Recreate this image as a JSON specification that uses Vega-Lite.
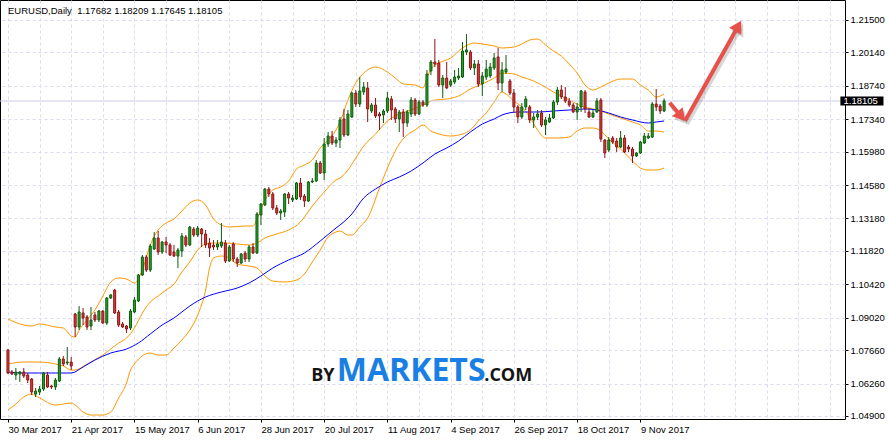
{
"$schema":"https://vega.github.io/schema/vega-lite/v6.json",
"width":845,"height":419,
"autosize":{"type":"none"},
"padding":{"left":0,"top":0,"right":43,"bottom":21},
"background":"#ffffff",
"title":{"text":"EURUSD,Daily\u00a0 1.17682 1.18209 1.17645 1.18105","anchor":"start","frame":"group","orient":"top","offset":-23,"dx":8,"baseline":"alphabetic","font":"Liberation Sans","fontSize":9.5,"fontWeight":"normal","color":"#000000"},
"config":{
"view":{"stroke":"#000000","strokeWidth":1},
"axis":{"labelFont":"Liberation Sans","labelFontSize":9.5,"labelColor":"#000000","tickColor":"#000000","domain":false,"gridColor":"#dadaf0","gridDash":[3,3],"gridWidth":1,"title":null}
},
"datasets":{
"candles":[
{"i":0,"o":1.07666,"h":1.07708,"l":1.06660,"c":1.06702},
{"i":1,"o":1.06744,"h":1.06828,"l":1.06618,"c":1.06660},
{"i":2,"o":1.06618,"h":1.06911,"l":1.06408,"c":1.06744},
{"i":3,"o":1.06660,"h":1.06786,"l":1.06325,"c":1.06744},
{"i":4,"o":1.06744,"h":1.06911,"l":1.06492,"c":1.06576},
{"i":5,"o":1.06618,"h":1.06702,"l":1.06283,"c":1.06408},
{"i":6,"o":1.06450,"h":1.06492,"l":1.05780,"c":1.05905},
{"i":7,"o":1.05822,"h":1.06073,"l":1.05696,"c":1.05947},
{"i":8,"o":1.05905,"h":1.06157,"l":1.05780,"c":1.06031},
{"i":9,"o":1.06031,"h":1.06744,"l":1.05947,"c":1.06702},
{"i":10,"o":1.06618,"h":1.06744,"l":1.06073,"c":1.06115},
{"i":11,"o":1.06157,"h":1.06199,"l":1.06031,"c":1.06115},
{"i":12,"o":1.06115,"h":1.06492,"l":1.05989,"c":1.06408},
{"i":13,"o":1.06366,"h":1.07373,"l":1.06325,"c":1.07289},
{"i":14,"o":1.07289,"h":1.07414,"l":1.06995,"c":1.07079},
{"i":15,"o":1.07121,"h":1.07792,"l":1.07037,"c":1.07163},
{"i":16,"o":1.07163,"h":1.07373,"l":1.06828,"c":1.06995},
{"i":17,"o":1.09175,"h":1.09217,"l":1.08211,"c":1.08630},
{"i":18,"o":1.08630,"h":1.09510,"l":1.08504,"c":1.09259},
{"i":19,"o":1.09217,"h":1.09427,"l":1.08714,"c":1.09007},
{"i":20,"o":1.09049,"h":1.09133,"l":1.08504,"c":1.08630},
{"i":21,"o":1.08672,"h":1.09469,"l":1.08504,"c":1.08924},
{"i":22,"o":1.09133,"h":1.09259,"l":1.08840,"c":1.08924},
{"i":23,"o":1.08924,"h":1.09343,"l":1.08840,"c":1.09301},
{"i":24,"o":1.09301,"h":1.09343,"l":1.08756,"c":1.08798},
{"i":25,"o":1.08798,"h":1.09888,"l":1.08714,"c":1.09846},
{"i":26,"o":1.09846,"h":1.10014,"l":1.09804,"c":1.09972},
{"i":27,"o":1.10181,"h":1.10223,"l":1.09175,"c":1.09217},
{"i":28,"o":1.09259,"h":1.09343,"l":1.08630,"c":1.08714},
{"i":29,"o":1.08756,"h":1.08840,"l":1.08588,"c":1.08630},
{"i":30,"o":1.08672,"h":1.08714,"l":1.08379,"c":1.08546},
{"i":31,"o":1.08588,"h":1.09385,"l":1.08504,"c":1.09301},
{"i":32,"o":1.09259,"h":1.09888,"l":1.09217,"c":1.09762},
{"i":33,"o":1.09720,"h":1.10852,"l":1.09678,"c":1.10810},
{"i":34,"o":1.10810,"h":1.11648,"l":1.10768,"c":1.11565},
{"i":35,"o":1.11565,"h":1.11648,"l":1.10936,"c":1.11020},
{"i":36,"o":1.11020,"h":1.12110,"l":1.10936,"c":1.12026},
{"i":37,"o":1.11900,"h":1.12613,"l":1.11858,"c":1.12361},
{"i":38,"o":1.12361,"h":1.12655,"l":1.11648,"c":1.11774},
{"i":39,"o":1.11774,"h":1.12235,"l":1.11690,"c":1.12193},
{"i":40,"o":1.12193,"h":1.12403,"l":1.11732,"c":1.12068},
{"i":41,"o":1.12068,"h":1.12151,"l":1.11606,"c":1.11648},
{"i":42,"o":1.11774,"h":1.12068,"l":1.11565,"c":1.11606},
{"i":43,"o":1.11606,"h":1.11942,"l":1.11103,"c":1.11858},
{"i":44,"o":1.11816,"h":1.12571,"l":1.11565,"c":1.12445},
{"i":45,"o":1.12403,"h":1.12487,"l":1.11984,"c":1.12068},
{"i":46,"o":1.12068,"h":1.12864,"l":1.12026,"c":1.12822},
{"i":47,"o":1.12738,"h":1.12822,"l":1.12403,"c":1.12487},
{"i":48,"o":1.12487,"h":1.12864,"l":1.12403,"c":1.12780},
{"i":49,"o":1.12738,"h":1.12780,"l":1.11984,"c":1.12529},
{"i":50,"o":1.12529,"h":1.12696,"l":1.11942,"c":1.12068},
{"i":51,"o":1.12151,"h":1.12361,"l":1.11565,"c":1.11942},
{"i":52,"o":1.12068,"h":1.12277,"l":1.11858,"c":1.11984},
{"i":53,"o":1.11984,"h":1.12277,"l":1.11858,"c":1.12110},
{"i":54,"o":1.12026,"h":1.12990,"l":1.11942,"c":1.12193},
{"i":55,"o":1.12151,"h":1.12277,"l":1.11313,"c":1.11397},
{"i":56,"o":1.11397,"h":1.12068,"l":1.11355,"c":1.11984},
{"i":57,"o":1.12110,"h":1.12193,"l":1.11355,"c":1.11481},
{"i":58,"o":1.11481,"h":1.11565,"l":1.11145,"c":1.11313},
{"i":59,"o":1.11313,"h":1.11732,"l":1.11271,"c":1.11690},
{"i":60,"o":1.11732,"h":1.11816,"l":1.11355,"c":1.11481},
{"i":61,"o":1.11481,"h":1.12068,"l":1.11355,"c":1.11984},
{"i":62,"o":1.11984,"h":1.12151,"l":1.11690,"c":1.11732},
{"i":63,"o":1.11732,"h":1.13451,"l":1.11690,"c":1.13367},
{"i":64,"o":1.13325,"h":1.13828,"l":1.12906,"c":1.13786},
{"i":65,"o":1.13744,"h":1.14457,"l":1.13702,"c":1.14415},
{"i":66,"o":1.14415,"h":1.14499,"l":1.14080,"c":1.14206},
{"i":67,"o":1.14206,"h":1.14289,"l":1.13535,"c":1.13619},
{"i":68,"o":1.13619,"h":1.13744,"l":1.13325,"c":1.13409},
{"i":69,"o":1.13409,"h":1.13577,"l":1.13116,"c":1.13493},
{"i":70,"o":1.13451,"h":1.14247,"l":1.13241,"c":1.14206},
{"i":71,"o":1.14206,"h":1.14289,"l":1.13786,"c":1.14038},
{"i":72,"o":1.13954,"h":1.14164,"l":1.13870,"c":1.14038},
{"i":73,"o":1.13996,"h":1.14709,"l":1.13954,"c":1.14667},
{"i":74,"o":1.14667,"h":1.14876,"l":1.13954,"c":1.14080},
{"i":75,"o":1.14122,"h":1.14206,"l":1.13661,"c":1.13912},
{"i":76,"o":1.13912,"h":1.14750,"l":1.13870,"c":1.14709},
{"i":77,"o":1.14709,"h":1.14876,"l":1.14667,"c":1.14750},
{"i":78,"o":1.14750,"h":1.15631,"l":1.14709,"c":1.15505},
{"i":79,"o":1.15505,"h":1.15589,"l":1.15044,"c":1.15086},
{"i":80,"o":1.15086,"h":1.16553,"l":1.14792,"c":1.16302},
{"i":81,"o":1.16302,"h":1.16805,"l":1.16176,"c":1.16637},
{"i":82,"o":1.16637,"h":1.16846,"l":1.16260,"c":1.16343},
{"i":83,"o":1.16343,"h":1.16595,"l":1.16176,"c":1.16469},
{"i":84,"o":1.16469,"h":1.17433,"l":1.16134,"c":1.17308},
{"i":85,"o":1.17350,"h":1.17769,"l":1.16595,"c":1.16679},
{"i":86,"o":1.16679,"h":1.17727,"l":1.16637,"c":1.17559},
{"i":87,"o":1.17433,"h":1.18481,"l":1.17391,"c":1.18439},
{"i":88,"o":1.18439,"h":1.18565,"l":1.17853,"c":1.17978},
{"i":89,"o":1.17978,"h":1.19110,"l":1.17853,"c":1.18523},
{"i":90,"o":1.18481,"h":1.18901,"l":1.18356,"c":1.18691},
{"i":91,"o":1.18649,"h":1.18901,"l":1.17224,"c":1.17769},
{"i":92,"o":1.17685,"h":1.18020,"l":1.17601,"c":1.17936},
{"i":93,"o":1.17936,"h":1.18230,"l":1.17391,"c":1.17475},
{"i":94,"o":1.17559,"h":1.17643,"l":1.16888,"c":1.17475},
{"i":95,"o":1.17517,"h":1.17769,"l":1.17182,"c":1.17685},
{"i":96,"o":1.17685,"h":1.18481,"l":1.17601,"c":1.18230},
{"i":97,"o":1.18188,"h":1.18314,"l":1.17308,"c":1.17727},
{"i":98,"o":1.17769,"h":1.17853,"l":1.17182,"c":1.17350},
{"i":99,"o":1.17350,"h":1.17727,"l":1.16805,"c":1.17643},
{"i":100,"o":1.17643,"h":1.17769,"l":1.16595,"c":1.17182},
{"i":101,"o":1.17182,"h":1.17727,"l":1.17014,"c":1.17643},
{"i":102,"o":1.17559,"h":1.18272,"l":1.17433,"c":1.18146},
{"i":103,"o":1.18146,"h":1.18230,"l":1.17475,"c":1.17559},
{"i":104,"o":1.17559,"h":1.18146,"l":1.17517,"c":1.18062},
{"i":105,"o":1.18062,"h":1.18146,"l":1.17853,"c":1.17936},
{"i":106,"o":1.17936,"h":1.19404,"l":1.17853,"c":1.19236},
{"i":107,"o":1.19362,"h":1.19823,"l":1.19194,"c":1.19739},
{"i":108,"o":1.19739,"h":1.20703,"l":1.19529,"c":1.19655},
{"i":109,"o":1.19697,"h":1.19823,"l":1.18691,"c":1.18775},
{"i":110,"o":1.18775,"h":1.19194,"l":1.18230,"c":1.19068},
{"i":111,"o":1.19068,"h":1.19739,"l":1.18607,"c":1.18649},
{"i":112,"o":1.18775,"h":1.19026,"l":1.18691,"c":1.18942},
{"i":113,"o":1.18901,"h":1.19404,"l":1.18817,"c":1.19110},
{"i":114,"o":1.19068,"h":1.19487,"l":1.18984,"c":1.19152},
{"i":115,"o":1.19110,"h":1.20577,"l":1.19068,"c":1.20200},
{"i":116,"o":1.20158,"h":1.20913,"l":1.20032,"c":1.20242},
{"i":117,"o":1.20158,"h":1.20242,"l":1.19404,"c":1.19487},
{"i":118,"o":1.19487,"h":1.19823,"l":1.19194,"c":1.19655},
{"i":119,"o":1.19655,"h":1.19823,"l":1.18691,"c":1.18817},
{"i":120,"o":1.18817,"h":1.19320,"l":1.18314,"c":1.19152},
{"i":121,"o":1.19110,"h":1.19823,"l":1.18984,"c":1.19446},
{"i":122,"o":1.19152,"h":1.19697,"l":1.19068,"c":1.19529},
{"i":123,"o":1.19487,"h":1.20116,"l":1.19404,"c":1.19907},
{"i":124,"o":1.19949,"h":1.20326,"l":1.18565,"c":1.18859},
{"i":125,"o":1.18859,"h":1.19739,"l":1.18481,"c":1.19404},
{"i":126,"o":1.19320,"h":1.20032,"l":1.19236,"c":1.19446},
{"i":127,"o":1.18942,"h":1.19026,"l":1.18356,"c":1.18439},
{"i":128,"o":1.18439,"h":1.18607,"l":1.17601,"c":1.17853},
{"i":129,"o":1.17853,"h":1.17936,"l":1.17182,"c":1.17433},
{"i":130,"o":1.17433,"h":1.18020,"l":1.17350,"c":1.17853},
{"i":131,"o":1.17853,"h":1.18314,"l":1.17727,"c":1.18188},
{"i":132,"o":1.17853,"h":1.17936,"l":1.17182,"c":1.17308},
{"i":133,"o":1.17308,"h":1.17601,"l":1.16972,"c":1.17433},
{"i":134,"o":1.17433,"h":1.17727,"l":1.17308,"c":1.17559},
{"i":135,"o":1.17601,"h":1.17727,"l":1.17014,"c":1.17098},
{"i":136,"o":1.17098,"h":1.17433,"l":1.16679,"c":1.17308},
{"i":137,"o":1.17224,"h":1.17559,"l":1.17182,"c":1.17391},
{"i":138,"o":1.17391,"h":1.18146,"l":1.17350,"c":1.18062},
{"i":139,"o":1.18062,"h":1.18691,"l":1.17936,"c":1.18565},
{"i":140,"o":1.18565,"h":1.18775,"l":1.18188,"c":1.18272},
{"i":141,"o":1.18272,"h":1.18691,"l":1.18020,"c":1.18104},
{"i":142,"o":1.18104,"h":1.18230,"l":1.17853,"c":1.17936},
{"i":143,"o":1.17936,"h":1.18020,"l":1.17601,"c":1.17643},
{"i":144,"o":1.17643,"h":1.18020,"l":1.17308,"c":1.17853},
{"i":145,"o":1.17853,"h":1.18565,"l":1.17643,"c":1.18523},
{"i":146,"o":1.18481,"h":1.18565,"l":1.17601,"c":1.17769},
{"i":147,"o":1.17643,"h":1.17811,"l":1.17391,"c":1.17433},
{"i":148,"o":1.17433,"h":1.17727,"l":1.17391,"c":1.17601},
{"i":149,"o":1.17643,"h":1.18230,"l":1.17601,"c":1.18104},
{"i":150,"o":1.18146,"h":1.18230,"l":1.16385,"c":1.16511},
{"i":151,"o":1.16469,"h":1.16511,"l":1.15715,"c":1.15924},
{"i":152,"o":1.16050,"h":1.16595,"l":1.15966,"c":1.16469},
{"i":153,"o":1.16553,"h":1.16637,"l":1.16302,"c":1.16385},
{"i":154,"o":1.16427,"h":1.16553,"l":1.15966,"c":1.16176},
{"i":155,"o":1.16176,"h":1.16846,"l":1.16134,"c":1.16553},
{"i":156,"o":1.16553,"h":1.16679,"l":1.15924,"c":1.15966},
{"i":157,"o":1.16176,"h":1.16260,"l":1.15966,"c":1.16092},
{"i":158,"o":1.16092,"h":1.16176,"l":1.15505,"c":1.15798},
{"i":159,"o":1.15798,"h":1.15966,"l":1.15757,"c":1.15924},
{"i":160,"o":1.15924,"h":1.16427,"l":1.15882,"c":1.16385},
{"i":161,"o":1.16343,"h":1.16763,"l":1.16302,"c":1.16637},
{"i":162,"o":1.16553,"h":1.16763,"l":1.16511,"c":1.16637},
{"i":163,"o":1.16595,"h":1.18062,"l":1.16553,"c":1.17978},
{"i":164,"o":1.17978,"h":1.18607,"l":1.17685,"c":1.17853},
{"i":165,"o":1.17894,"h":1.17978,"l":1.17559,"c":1.17685},
{"i":166,"o":1.17682,"h":1.18209,"l":1.17645,"c":1.18105}
],
"lines":[
{"i":0,"s":"up","v":1.08966},{"i":4,"s":"up","v":1.08714},{"i":6,"s":"up","v":1.08672},{"i":8,"s":"up","v":1.08756},{"i":12,"s":"up","v":1.08630},{"i":14,"s":"up","v":1.08588},{"i":16,"s":"up","v":1.08253},{"i":17,"s":"up","v":1.08211},{"i":18,"s":"up","v":1.08504},{"i":20,"s":"up","v":1.08924},{"i":22,"s":"up","v":1.09343},{"i":24,"s":"up","v":1.09930},{"i":26,"s":"up","v":1.10517},{"i":28,"s":"up","v":1.10684},{"i":30,"s":"up","v":1.10642},{"i":32,"s":"up","v":1.10475},{"i":34,"s":"up","v":1.11020},{"i":36,"s":"up","v":1.12068},{"i":38,"s":"up","v":1.12696},{"i":40,"s":"up","v":1.12990},{"i":42,"s":"up","v":1.13158},{"i":44,"s":"up","v":1.13493},{"i":46,"s":"up","v":1.13828},{"i":48,"s":"up","v":1.13954},{"i":50,"s":"up","v":1.13744},{"i":52,"s":"up","v":1.13158},{"i":54,"s":"up","v":1.12906},{"i":56,"s":"up","v":1.12822},{"i":60,"s":"up","v":1.12864},{"i":62,"s":"up","v":1.12864},{"i":63,"s":"up","v":1.13158},{"i":65,"s":"up","v":1.13954},{"i":67,"s":"up","v":1.14373},{"i":69,"s":"up","v":1.14499},{"i":71,"s":"up","v":1.14750},{"i":73,"s":"up","v":1.15254},{"i":75,"s":"up","v":1.15421},{"i":77,"s":"up","v":1.15631},{"i":79,"s":"up","v":1.16134},{"i":81,"s":"up","v":1.16469},{"i":83,"s":"up","v":1.16888},{"i":84,"s":"up","v":1.17224},{"i":86,"s":"up","v":1.18146},{"i":88,"s":"up","v":1.18859},{"i":90,"s":"up","v":1.19278},{"i":93,"s":"up","v":1.19529},{"i":96,"s":"up","v":1.19320},{"i":98,"s":"up","v":1.19068},{"i":100,"s":"up","v":1.18817},{"i":103,"s":"up","v":1.18775},{"i":105,"s":"up","v":1.18649},{"i":106,"s":"up","v":1.19068},{"i":107,"s":"up","v":1.19446},{"i":109,"s":"up","v":1.19697},{"i":112,"s":"up","v":1.19907},{"i":115,"s":"up","v":1.20326},{"i":118,"s":"up","v":1.20535},{"i":120,"s":"up","v":1.20493},{"i":123,"s":"up","v":1.20410},{"i":125,"s":"up","v":1.20326},{"i":128,"s":"up","v":1.20368},{"i":130,"s":"up","v":1.20493},{"i":132,"s":"up","v":1.20661},{"i":134,"s":"up","v":1.20703},{"i":136,"s":"up","v":1.20452},{"i":138,"s":"up","v":1.20200},{"i":140,"s":"up","v":1.19990},{"i":142,"s":"up","v":1.19655},{"i":144,"s":"up","v":1.19278},{"i":146,"s":"up","v":1.18775},{"i":148,"s":"up","v":1.18565},{"i":150,"s":"up","v":1.18691},{"i":152,"s":"up","v":1.18859},{"i":155,"s":"up","v":1.19026},{"i":158,"s":"up","v":1.19026},{"i":160,"s":"up","v":1.18775},{"i":162,"s":"up","v":1.18565},{"i":164,"s":"up","v":1.18272},{"i":166,"s":"up","v":1.18398},
{"i":0,"s":"mid","v":1.07079},{"i":4,"s":"mid","v":1.07163},{"i":8,"s":"mid","v":1.07163},{"i":12,"s":"mid","v":1.07079},{"i":14,"s":"mid","v":1.06995},{"i":16,"s":"mid","v":1.06828},{"i":17,"s":"mid","v":1.06828},{"i":20,"s":"mid","v":1.07079},{"i":24,"s":"mid","v":1.07456},{"i":28,"s":"mid","v":1.07959},{"i":30,"s":"mid","v":1.08169},{"i":32,"s":"mid","v":1.08588},{"i":34,"s":"mid","v":1.09217},{"i":36,"s":"mid","v":1.09678},{"i":38,"s":"mid","v":1.09930},{"i":40,"s":"mid","v":1.10181},{"i":42,"s":"mid","v":1.10433},{"i":44,"s":"mid","v":1.10936},{"i":46,"s":"mid","v":1.11355},{"i":48,"s":"mid","v":1.11858},{"i":50,"s":"mid","v":1.12110},{"i":52,"s":"mid","v":1.12151},{"i":55,"s":"mid","v":1.12151},{"i":58,"s":"mid","v":1.12110},{"i":61,"s":"mid","v":1.12068},{"i":63,"s":"mid","v":1.12151},{"i":65,"s":"mid","v":1.12361},{"i":68,"s":"mid","v":1.12529},{"i":71,"s":"mid","v":1.12696},{"i":74,"s":"mid","v":1.13032},{"i":77,"s":"mid","v":1.13702},{"i":80,"s":"mid","v":1.14289},{"i":83,"s":"mid","v":1.14792},{"i":84,"s":"mid","v":1.14876},{"i":86,"s":"mid","v":1.15212},{"i":88,"s":"mid","v":1.15715},{"i":90,"s":"mid","v":1.16218},{"i":93,"s":"mid","v":1.16721},{"i":96,"s":"mid","v":1.17266},{"i":99,"s":"mid","v":1.17559},{"i":102,"s":"mid","v":1.17727},{"i":105,"s":"mid","v":1.17936},{"i":108,"s":"mid","v":1.18146},{"i":111,"s":"mid","v":1.18188},{"i":114,"s":"mid","v":1.18314},{"i":117,"s":"mid","v":1.18607},{"i":120,"s":"mid","v":1.18817},{"i":123,"s":"mid","v":1.19068},{"i":125,"s":"mid","v":1.19278},{"i":128,"s":"mid","v":1.19236},{"i":130,"s":"mid","v":1.19110},{"i":133,"s":"mid","v":1.18942},{"i":135,"s":"mid","v":1.18775},{"i":138,"s":"mid","v":1.18481},{"i":140,"s":"mid","v":1.18314},{"i":143,"s":"mid","v":1.18062},{"i":145,"s":"mid","v":1.17894},{"i":148,"s":"mid","v":1.17769},{"i":150,"s":"mid","v":1.17685},{"i":152,"s":"mid","v":1.17559},{"i":155,"s":"mid","v":1.17391},{"i":158,"s":"mid","v":1.17224},{"i":160,"s":"mid","v":1.17098},{"i":162,"s":"mid","v":1.16846},{"i":164,"s":"mid","v":1.16846},{"i":166,"s":"mid","v":1.16805},
{"i":0,"s":"lo","v":1.05151},{"i":2,"s":"lo","v":1.05402},{"i":4,"s":"lo","v":1.05696},{"i":6,"s":"lo","v":1.05822},{"i":8,"s":"lo","v":1.05654},{"i":12,"s":"lo","v":1.05360},{"i":16,"s":"lo","v":1.05444},{"i":17,"s":"lo","v":1.05360},{"i":19,"s":"lo","v":1.05067},{"i":21,"s":"lo","v":1.04941},{"i":24,"s":"lo","v":1.04941},{"i":26,"s":"lo","v":1.05067},{"i":28,"s":"lo","v":1.05654},{"i":30,"s":"lo","v":1.06283},{"i":31,"s":"lo","v":1.06828},{"i":32,"s":"lo","v":1.07079},{"i":36,"s":"lo","v":1.07540},{"i":38,"s":"lo","v":1.07456},{"i":40,"s":"lo","v":1.07456},{"i":42,"s":"lo","v":1.07750},{"i":44,"s":"lo","v":1.08085},{"i":46,"s":"lo","v":1.08504},{"i":48,"s":"lo","v":1.09133},{"i":50,"s":"lo","v":1.10181},{"i":51,"s":"lo","v":1.11103},{"i":52,"s":"lo","v":1.11523},{"i":54,"s":"lo","v":1.11606},{"i":56,"s":"lo","v":1.11523},{"i":58,"s":"lo","v":1.11271},{"i":61,"s":"lo","v":1.11187},{"i":63,"s":"lo","v":1.11103},{"i":65,"s":"lo","v":1.10768},{"i":67,"s":"lo","v":1.10558},{"i":70,"s":"lo","v":1.10517},{"i":73,"s":"lo","v":1.10600},{"i":75,"s":"lo","v":1.10852},{"i":77,"s":"lo","v":1.11355},{"i":79,"s":"lo","v":1.11858},{"i":81,"s":"lo","v":1.12403},{"i":83,"s":"lo","v":1.12613},{"i":84,"s":"lo","v":1.12655},{"i":86,"s":"lo","v":1.12487},{"i":87,"s":"lo","v":1.12487},{"i":89,"s":"lo","v":1.12822},{"i":91,"s":"lo","v":1.13199},{"i":94,"s":"lo","v":1.14457},{"i":96,"s":"lo","v":1.15295},{"i":99,"s":"lo","v":1.16302},{"i":101,"s":"lo","v":1.16679},{"i":103,"s":"lo","v":1.16888},{"i":105,"s":"lo","v":1.17098},{"i":107,"s":"lo","v":1.16846},{"i":109,"s":"lo","v":1.16721},{"i":112,"s":"lo","v":1.16637},{"i":115,"s":"lo","v":1.16721},{"i":117,"s":"lo","v":1.16888},{"i":119,"s":"lo","v":1.17266},{"i":121,"s":"lo","v":1.17601},{"i":123,"s":"lo","v":1.18062},{"i":125,"s":"lo","v":1.18481},{"i":126,"s":"lo","v":1.18398},{"i":128,"s":"lo","v":1.18104},{"i":130,"s":"lo","v":1.17853},{"i":132,"s":"lo","v":1.17433},{"i":134,"s":"lo","v":1.16888},{"i":136,"s":"lo","v":1.16553},{"i":139,"s":"lo","v":1.16553},{"i":142,"s":"lo","v":1.16595},{"i":144,"s":"lo","v":1.16846},{"i":146,"s":"lo","v":1.16972},{"i":148,"s":"lo","v":1.16972},{"i":150,"s":"lo","v":1.16846},{"i":152,"s":"lo","v":1.16511},{"i":155,"s":"lo","v":1.16092},{"i":158,"s":"lo","v":1.15589},{"i":160,"s":"lo","v":1.15295},{"i":162,"s":"lo","v":1.15212},{"i":164,"s":"lo","v":1.15212},{"i":166,"s":"lo","v":1.15295},
{"i":0,"s":"ma","v":1.06744},{"i":4,"s":"ma","v":1.06702},{"i":8,"s":"ma","v":1.06702},{"i":12,"s":"ma","v":1.06702},{"i":16,"s":"ma","v":1.06702},{"i":19,"s":"ma","v":1.06953},{"i":22,"s":"ma","v":1.07247},{"i":26,"s":"ma","v":1.07540},{"i":30,"s":"ma","v":1.07708},{"i":33,"s":"ma","v":1.07959},{"i":36,"s":"ma","v":1.08337},{"i":39,"s":"ma","v":1.08714},{"i":42,"s":"ma","v":1.09007},{"i":44,"s":"ma","v":1.09259},{"i":46,"s":"ma","v":1.09510},{"i":48,"s":"ma","v":1.09720},{"i":50,"s":"ma","v":1.09888},{"i":54,"s":"ma","v":1.10097},{"i":58,"s":"ma","v":1.10265},{"i":61,"s":"ma","v":1.10475},{"i":64,"s":"ma","v":1.10768},{"i":67,"s":"ma","v":1.11103},{"i":71,"s":"ma","v":1.11439},{"i":75,"s":"ma","v":1.11732},{"i":79,"s":"ma","v":1.12235},{"i":83,"s":"ma","v":1.12780},{"i":84,"s":"ma","v":1.12906},{"i":87,"s":"ma","v":1.13367},{"i":90,"s":"ma","v":1.14038},{"i":93,"s":"ma","v":1.14415},{"i":96,"s":"ma","v":1.14709},{"i":99,"s":"ma","v":1.14918},{"i":102,"s":"ma","v":1.15170},{"i":105,"s":"ma","v":1.15505},{"i":108,"s":"ma","v":1.15882},{"i":111,"s":"ma","v":1.16134},{"i":114,"s":"ma","v":1.16427},{"i":117,"s":"ma","v":1.16805},{"i":120,"s":"ma","v":1.17140},{"i":123,"s":"ma","v":1.17350},{"i":125,"s":"ma","v":1.17517},{"i":129,"s":"ma","v":1.17643},{"i":134,"s":"ma","v":1.17643},{"i":138,"s":"ma","v":1.17685},{"i":142,"s":"ma","v":1.17727},{"i":146,"s":"ma","v":1.17769},{"i":149,"s":"ma","v":1.17727},{"i":152,"s":"ma","v":1.17601},{"i":155,"s":"ma","v":1.17433},{"i":158,"s":"ma","v":1.17308},{"i":162,"s":"ma","v":1.17182},{"i":164,"s":"ma","v":1.17224},{"i":166,"s":"ma","v":1.17266}
],
"arrow":[
{"seg":"a","i":167.4,"p":1.18033},{"seg":"a","i":170.67,"p":1.17391},
{"seg":"b","i":171.3,"p":1.17266},{"seg":"b","i":184.9,"p":1.21286}
]
},
"layer":[
{"data":{"name":"lines"},
 "mark":{"type":"line","strokeWidth":1,"interpolate":"monotone"},
 "encoding":{
  "x":{"field":"i","type":"quantitative","scale":{"domain":[-0.75,210.5],"nice":false,"zero":false},
   "axis":{"orient":"bottom","values":[0,8,16,24,32,40,48,56,64,72,80,88,96,104,112,120,128,136,144,152,160,168,176,184,192,200,208],"tickCount":200,
    "labelExpr":"datum.value % 16 == 0 && datum.value <= 160 ? ['30 Mar 2017','21 Apr 2017','15 May 2017','6 Jun 2017','28 Jun 2017','20 Jul 2017','11 Aug 2017','4 Sep 2017','26 Sep 2017','18 Oct 2017','9 Nov 2017'][datum.value/16] : ''",
    "grid":true,"tickSize":3,"tickOpacity":{"expr":"datum.value % 16 == 0 && datum.value <= 160 ? 1 : 0"},"labelAlign":"left","labelBaseline":"top","labelPadding":2,"labelFlush":false,"labelOverlap":false,"labelBound":false,"title":null}},
  "y":{"field":"v","type":"quantitative","scale":{"domain":[1.04774,1.22338],"nice":false,"zero":false},
   "axis":{"orient":"right","values":[1.215,1.2014,1.1874,1.1734,1.1598,1.1458,1.1318,1.1182,1.1042,1.0902,1.0766,1.0626,1.049],"tickCount":100,"format":".5f","grid":true,"tickSize":3,"labelPadding":2,"labelFlush":false,"labelOverlap":false,"labelBound":false,"title":null}},
  "color":{"field":"s","type":"nominal","scale":{"domain":["up","mid","lo","ma"],"range":["#ff9600","#ff9600","#ff9600","#0000ff"]},"legend":null}
 }},
{"data":{"values":[{}]},
 "mark":{"type":"rule","color":"#cdcde6","strokeWidth":1},
 "encoding":{"y":{"datum":1.18105,"type":"quantitative","scale":{"domain":[1.04774,1.22338],"nice":false,"zero":false}}}},
{"data":{"name":"candles"},
 "mark":{"type":"rule","strokeWidth":1},
 "encoding":{
  "x":{"field":"i","type":"quantitative","scale":{"domain":[-0.75,210.5],"nice":false,"zero":false}},
  "y":{"field":"l","type":"quantitative","scale":{"domain":[1.04774,1.22338],"nice":false,"zero":false}},
  "y2":{"field":"h"},
  "color":{"condition":{"test":"datum.c >= datum.o","value":"#0d5c0d"},"value":"#8c1515"}}},
{"data":{"name":"candles"},
 "mark":{"type":"bar","width":2,"strokeWidth":1},
 "encoding":{
  "x":{"field":"i","type":"quantitative","scale":{"domain":[-0.75,210.5],"nice":false,"zero":false}},
  "y":{"field":"o","type":"quantitative","scale":{"domain":[1.04774,1.22338],"nice":false,"zero":false}},
  "y2":{"field":"c"},
  "fill":{"condition":{"test":"datum.c >= datum.o","value":"#26a526"},"value":"#e03a3a"},
  "stroke":{"condition":{"test":"datum.c >= datum.o","value":"#0d5c0d"},"value":"#8c1515"}}},
{"data":{"values":[{}]},
 "layer":[
  {"mark":{"type":"text","text":"BY","align":"right","baseline":"alphabetic","font":"Open Sans","fontWeight":"bold","fontSize":18,"color":"#151515"}},
  {"mark":{"type":"text","text":"MARKETS","align":"left","baseline":"alphabetic","font":"Open Sans","fontWeight":"bold","fontSize":32,"color":"#1a7fe4"},
   "encoding":{"x":{"datum":83.2,"type":"quantitative","scale":{"domain":[-0.75,210.5],"nice":false,"zero":false}}}},
  {"mark":{"type":"text","text":".COM","align":"left","baseline":"alphabetic","font":"Open Sans","fontWeight":"bold","fontSize":18,"color":"#151515"},
   "encoding":{"x":{"datum":120.5,"type":"quantitative","scale":{"domain":[-0.75,210.5],"nice":false,"zero":false}}}}
 ],
 "encoding":{
  "x":{"datum":82.6,"type":"quantitative","scale":{"domain":[-0.75,210.5],"nice":false,"zero":false}},
  "y":{"datum":1.06366,"type":"quantitative","scale":{"domain":[1.04774,1.22338],"nice":false,"zero":false}}}},
{"data":{"name":"arrow"},
 "mark":{"type":"line","color":"#777777","opacity":0.3,"strokeWidth":4,"xOffset":2,"yOffset":3},
 "encoding":{
  "x":{"field":"i","type":"quantitative","scale":{"domain":[-0.75,210.5],"nice":false,"zero":false}},
  "y":{"field":"p","type":"quantitative","scale":{"domain":[1.04774,1.22338],"nice":false,"zero":false}},
  "detail":{"field":"seg"}}},
{"data":{"name":"arrow"},
 "mark":{"type":"line","color":"#e8504a","strokeWidth":4},
 "encoding":{
  "x":{"field":"i","type":"quantitative","scale":{"domain":[-0.75,210.5],"nice":false,"zero":false}},
  "y":{"field":"p","type":"quantitative","scale":{"domain":[1.04774,1.22338],"nice":false,"zero":false}},
  "detail":{"field":"seg"}}},
{"data":{"values":[{}]},
 "layer":[
  {"mark":{"type":"point","shape":"triangle-up","filled":true,"size":196,"angle":139.5,"color":"#777777","opacity":0.3,"xOffset":2,"yOffset":3}},
  {"mark":{"type":"point","shape":"triangle-up","filled":true,"size":196,"angle":139.5,"color":"#e8504a","opacity":1}}
 ],
 "encoding":{
  "x":{"datum":170.35,"type":"quantitative","scale":{"domain":[-0.75,210.5],"nice":false,"zero":false}},
  "y":{"datum":1.17458,"type":"quantitative","scale":{"domain":[1.04774,1.22338],"nice":false,"zero":false}}}},
{"data":{"values":[{}]},
 "layer":[
  {"mark":{"type":"point","shape":"triangle-up","filled":true,"size":196,"angle":29.5,"color":"#777777","opacity":0.3,"xOffset":2,"yOffset":3}},
  {"mark":{"type":"point","shape":"triangle-up","filled":true,"size":196,"angle":29.5,"color":"#e8504a","opacity":1}}
 ],
 "encoding":{
  "x":{"datum":184.75,"type":"quantitative","scale":{"domain":[-0.75,210.5],"nice":false,"zero":false}},
  "y":{"datum":1.21252,"type":"quantitative","scale":{"domain":[1.04774,1.22338],"nice":false,"zero":false}}}},
{"data":{"values":[{}]},
 "mark":{"type":"rect","color":"#000000"},
 "encoding":{
  "x":{"datum":210.6,"type":"quantitative","scale":{"domain":[-0.75,210.5],"nice":false,"zero":false}},
  "x2":{"datum":221.5},
  "y":{"datum":1.18293,"type":"quantitative","scale":{"domain":[1.04774,1.22338],"nice":false,"zero":false}},
  "y2":{"datum":1.17915}}},
{"data":{"values":[{}]},
 "mark":{"type":"text","text":"1.18105","color":"#ffffff","align":"left","baseline":"middle","font":"Liberation Sans","fontSize":9.5},
 "encoding":{
  "x":{"datum":211.4,"type":"quantitative","scale":{"domain":[-0.75,210.5],"nice":false,"zero":false}},
  "y":{"datum":1.18105,"type":"quantitative","scale":{"domain":[1.04774,1.22338],"nice":false,"zero":false}}}}
]
}
